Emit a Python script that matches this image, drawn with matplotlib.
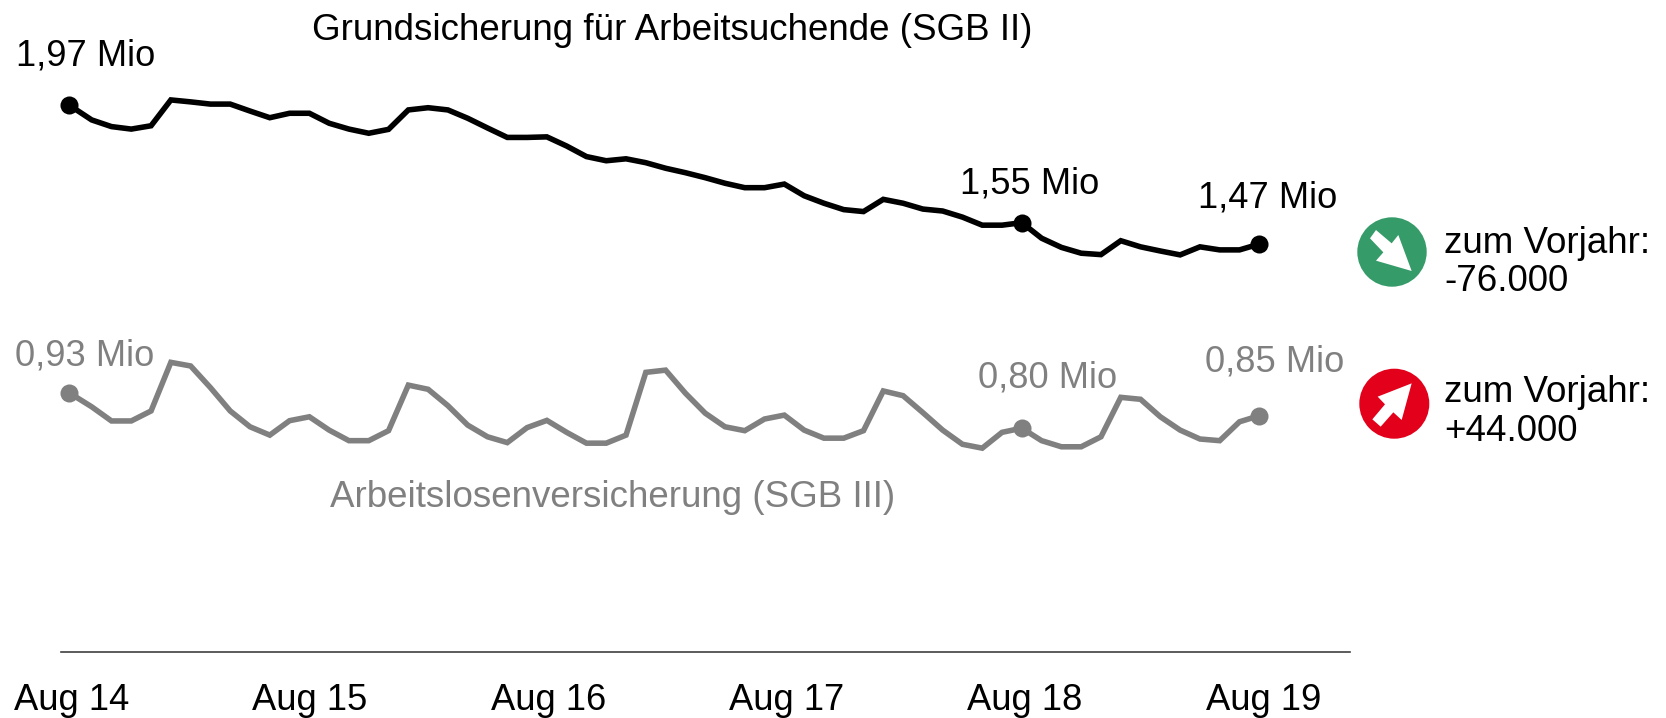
import matplotlib
matplotlib.use("Agg")
import matplotlib.pyplot as plt
from matplotlib.patches import Circle, Polygon

plt.rcParams['font.family'] = ['Liberation Sans', 'DejaVu Sans']

tick_labels = ["Aug 14", "Aug 15", "Aug 16", "Aug 17", "Aug 18", "Aug 19"]
sgb2 = [1.970, 1.916, 1.892, 1.883, 1.895, 1.988, 1.981, 1.973, 1.973, 1.948,
        1.924, 1.940, 1.940, 1.904, 1.883, 1.868, 1.882, 1.952, 1.960, 1.952,
        1.922, 1.887, 1.853, 1.853, 1.855, 1.822, 1.784, 1.769, 1.776, 1.762,
        1.742, 1.726, 1.708, 1.688, 1.672, 1.672, 1.685, 1.643, 1.616, 1.593,
        1.586, 1.630, 1.616, 1.595, 1.588, 1.566, 1.537, 1.537, 1.546, 1.490,
        1.457, 1.436, 1.431, 1.481, 1.459, 1.444, 1.430, 1.459, 1.448, 1.448,
        1.469]
sgb3 = [0.934, 0.883, 0.832, 0.832, 0.868, 1.043, 1.030, 0.952, 0.868, 0.811,
        0.781, 0.833, 0.847, 0.799, 0.761, 0.761, 0.797, 0.961, 0.946, 0.887,
        0.817, 0.775, 0.754, 0.808, 0.834, 0.791, 0.752, 0.752, 0.781, 1.007,
        1.015, 0.932, 0.860, 0.811, 0.797, 0.839, 0.853, 0.799, 0.770, 0.770,
        0.797, 0.940, 0.923, 0.862, 0.799, 0.748, 0.734, 0.791, 0.806, 0.761,
        0.739, 0.739, 0.775, 0.917, 0.910, 0.847, 0.799, 0.767, 0.761, 0.829,
        0.851]
highlight_idx = [0, 48, 60]
months = [-0.15] + list(range(1, len(sgb2)))
tick_pos = [0, 12, 24.1, 36.1, 48.15, 60.2]

W, H = 1666, 718
BLACK, GREY = "#000000", "#808080"
fig = plt.figure(figsize=(W / 100, H / 100), dpi=100, facecolor="white")

# main axes: bottom spine is the zero baseline
left, right, base = 61, 1350, 652
ax = fig.add_axes([left / W, (H - base) / H, (right - left) / W, base / H])
ax.set_xlim((left - 71.9) / 19.79, (right - 71.9) / 19.79)
ax.set_ylim(0, base / 277.7)
ax.patch.set_alpha(0)
for s in ("top", "left", "right"):
    ax.spines[s].set_visible(False)
ax.spines["bottom"].set_color("#404040")
ax.spines["bottom"].set_linewidth(1.2)
ax.set_yticks([])
ax.set_xticks(tick_pos)
ax.set_xticklabels(tick_labels, fontsize=26.2, color="black")
ax.tick_params(axis="x", length=0, pad=22)

for vals, col in ((sgb2, BLACK), (sgb3, GREY)):
    ax.plot(months, vals, color=col, lw=4, solid_joinstyle="miter", clip_on=False)
    ax.plot([months[i] for i in highlight_idx], [vals[i] for i in highlight_idx],
            ls="none", marker="o", ms=13, mec="none", mfc=col, clip_on=False)

# overlay in pixel coordinates for annotations and icons
pax = fig.add_axes([0, 0, 1, 1])
pax.set_xlim(0, W)
pax.set_ylim(H, 0)
pax.axis("off")
pax.patch.set_alpha(0)


def t(x, y, s, col=BLACK, size=26.1):
    pax.text(x, y, s, color=col, fontsize=size, ha="left", va="baseline")


t(312, 40, "Grundsicherung für Arbeitsuchende (SGB II)", size=26.5)
t(16, 66, "1,97 Mio")
t(960, 194, "1,55 Mio")
t(1198, 207, "1,47 Mio")
t(15, 366, "0,93 Mio", GREY)
t(978, 387, "0,80 Mio", GREY)
t(1205, 372, "0,85 Mio", GREY)
t(330, 507, "Arbeitslosenversicherung (SGB III)", GREY, size=26.5)
t(1444, 253, "zum Vorjahr:", size=26.5)
t(1444, 291, "-76.000", size=26.5)
t(1444, 402, "zum Vorjahr:", size=26.5)
t(1444, 441, "+44.000", size=26.5)


def icon(cx, cy, r, col, pts):
    pax.add_patch(Circle((cx, cy), r, fc=col, ec="none"))
    pax.add_patch(Polygon([(1340 + a / 3, 200 + b / 3) for a, b in pts], fc="white", ec="none"))


icon(1392, 252, 34.7, "#359B68",
     [(108, 90), (155, 130), (175, 105), (215, 213), (108, 182), (130, 157), (90, 115)])
icon(1394.3, 403.7, 35, "#E2001A",
     [(122, 680), (160, 637), (185, 660), (215, 550), (113, 590), (135, 613), (97, 658)])

fig.savefig("out.png", dpi=100, facecolor="white")
